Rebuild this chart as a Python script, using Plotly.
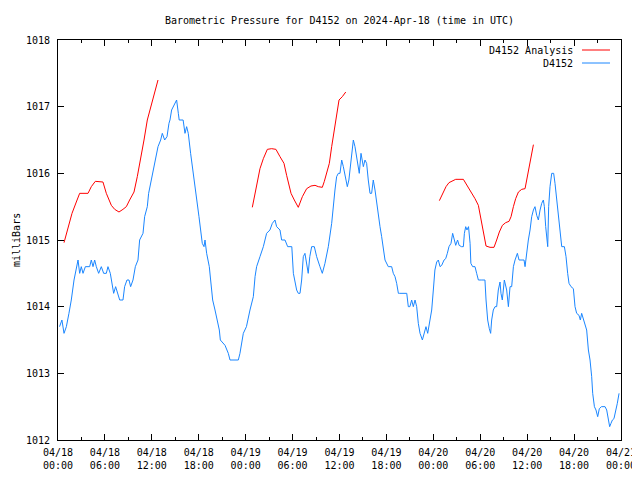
import pandas as pd
import plotly.graph_objects as go

# ---- data (hours since 2024-04-18 00:00 UTC, millibars) ----
blue_hours = [0.2, 0.5, 0.77, 1.07, 1.4, 1.7, 2.05, 2.34, 2.56, 2.77, 2.98, 3.2, 3.5, 4.05, 4.26, 4.48, 4.69, 4.9,
              5.2, 5.54, 5.84, 6.18, 6.39, 6.69, 6.95, 7.12, 7.37, 7.59, 7.89, 8.31, 8.52, 8.82, 9.08, 9.29, 9.59,
              9.89, 10.23, 10.44, 10.87, 11.08, 11.42, 11.59, 11.93, 12.23, 12.49, 12.79, 13.13, 13.34, 13.64,
              13.94, 14.19,
              14.32, 14.53, 14.75, 15.17, 15.39, 15.5, 16.0, 16.24, 16.45, 16.66, 16.96, 17.22, 17.52, 17.73,
              18.03, 18.24, 18.45, 18.67, 18.8, 19.01, 19.35, 19.52, 19.78, 20.08, 20.37, 20.63, 20.76,
              21.36, 21.78, 22.0, 23.06, 23.27, 23.7, 24.1, 24.55, 24.98, 25.2, 25.4, 25.83, 26.26, 26.68, 27.1,
              27.41, 27.75, 27.96, 28.39, 28.6, 29.03, 29.37, 29.9, 30.1, 30.3, 30.52, 30.73, 30.95, 31.16, 31.37,
              31.58, 31.8, 32.0, 32.2, 32.44, 32.78, 33.08, 33.5, 33.8, 34.14, 34.57, 35.0, 35.2, 35.42, 35.63,
              35.85, 36.06, 36.28, 36.49, 36.7, 37.0, 37.2, 37.47, 37.77, 37.98, 38.19, 38.4, 38.53, 38.75, 39.05,
              39.26, 39.47, 39.68, 39.9, 40.11, 40.32, 40.54, 40.75, 40.96, 41.18, 41.39,
              41.82, 42.24, 42.67, 42.88, 43.1, 43.31,
              43.53, 43.7, 44.6, 44.8, 45.0, 45.23, 45.44, 45.66, 45.87, 46.08, 46.3, 46.6, 46.85, 47.06, 47.28,
              47.5, 47.79, 48.0, 48.2, 48.43, 48.64, 48.86, 49.07, 49.37, 49.58, 49.79, 50.0, 50.26, 50.47, 50.69,
              50.86, 51.1, 51.3, 51.6, 51.84, 51.97, 52.14, 52.3, 52.5, 52.7, 52.8, 53.03, 53.33, 53.54, 53.76,
              54.2, 54.6, 54.74, 54.95, 55.16, 55.33, 55.46, 55.67, 55.89, 56.1, 56.31, 56.53, 56.65, 56.82, 57.08,
              57.38, 57.6, 57.81, 58.02, 58.24, 58.45, 58.75, 58.96, 59.3, 59.6, 59.73, 59.94, 60.15, 60.37, 60.58,
              60.8, 61.0, 61.22, 61.43, 61.65, 61.86, 62.07, 62.2, 62.37, 62.5, 62.63, 62.75, 62.92, 63.14, 63.39,
              63.56, 63.78, 63.99, 64.2, 64.42, 64.76, 64.97, 65.18, 65.35, 65.61, 65.91, 66.12, 66.33, 66.63, 66.8,
              66.97, 67.19, 67.4, 67.61, 67.83, 68.04, 68.25, 68.38, 68.6, 68.8, 69.02, 69.23, 69.5, 69.96, 70.17,
              70.38, 70.55, 70.72, 70.9, 71.1, 71.32, 71.53, 71.75]
blue_values = [1013.7, 1013.8, 1013.6, 1013.7, 1013.9, 1014.1, 1014.4, 1014.6, 1014.7, 1014.5, 1014.6, 1014.5,
               1014.6, 1014.6, 1014.7, 1014.6, 1014.7, 1014.6, 1014.5, 1014.6, 1014.5, 1014.5, 1014.6, 1014.5,
               1014.3, 1014.2, 1014.3, 1014.2, 1014.1, 1014.1, 1014.3, 1014.4, 1014.4, 1014.3, 1014.4, 1014.6,
               1014.7, 1015.0, 1015.1, 1015.35, 1015.5, 1015.7, 1015.9, 1016.05, 1016.25, 1016.4, 1016.5, 1016.6,
               1016.5, 1016.55, 1016.75,
               1016.8, 1016.95, 1017.0, 1017.1, 1016.9, 1016.8, 1016.8, 1016.6, 1016.7, 1016.6, 1016.3, 1016.05,
               1015.75, 1015.55, 1015.35, 1015.15, 1014.95, 1014.9, 1015.0, 1014.8, 1014.6, 1014.4, 1014.1,
               1013.95, 1013.8, 1013.65, 1013.5,
               1013.42, 1013.3, 1013.2, 1013.2, 1013.3, 1013.6, 1013.7, 1013.95, 1014.15, 1014.45, 1014.6, 1014.75,
               1014.9, 1015.1, 1015.15, 1015.25, 1015.3, 1015.2, 1015.15, 1015.0, 1015.0, 1014.9, 1014.9, 1014.5,
               1014.4, 1014.25, 1014.2, 1014.2, 1014.4, 1014.75, 1014.8, 1014.6, 1014.5, 1014.75, 1014.9, 1014.9,
               1014.75, 1014.6, 1014.5, 1014.65, 1014.9, 1015.25, 1015.55, 1015.75, 1015.95, 1016.0, 1016.0,
               1016.2, 1016.1, 1015.95, 1015.8, 1015.9, 1016.2, 1016.5, 1016.4, 1016.25, 1016.1, 1016.0, 1016.3,
               1016.1, 1016.2, 1016.15, 1015.9, 1015.7, 1015.7, 1015.9, 1015.75, 1015.55, 1015.35, 1015.2, 1015.05,
               1014.7, 1014.6, 1014.6, 1014.5, 1014.45, 1014.35,
               1014.2, 1014.2, 1014.2, 1014.0, 1014.0, 1014.1, 1014.0, 1014.1, 1014.0, 1013.75, 1013.6, 1013.5,
               1013.6, 1013.7, 1013.6, 1013.77, 1013.95, 1014.25, 1014.55, 1014.67, 1014.7, 1014.6, 1014.62,
               1014.7, 1014.72, 1014.8, 1014.9, 1014.95, 1015.1, 1015.0, 1014.92, 1015.0, 1014.92, 1014.9, 1014.9,
               1015.1, 1015.2, 1015.15, 1015.2, 1014.95, 1014.65, 1014.6, 1014.6, 1014.5, 1014.4, 1014.4, 1014.4,
               1014.1, 1013.8, 1013.67, 1013.6, 1013.8, 1013.95, 1014.0, 1014.0, 1014.25, 1014.37, 1014.2, 1014.1,
               1014.4,
               1014.25, 1014.0, 1014.3, 1014.3, 1014.6, 1014.7, 1014.8, 1014.7, 1014.7, 1014.7, 1014.6, 1014.85,
               1015.0, 1015.15, 1015.35, 1015.45, 1015.5, 1015.37, 1015.3, 1015.45, 1015.55, 1015.6, 1015.5,
               1015.2, 1015.0, 1014.9, 1015.5, 1015.8, 1016.0, 1016.0, 1015.85, 1015.6, 1015.45, 1015.2, 1014.9,
               1014.9, 1014.75, 1014.5, 1014.35, 1014.3, 1014.27, 1014.0, 1013.9, 1013.87, 1013.8, 1013.9, 1013.82,
               1013.75, 1013.65, 1013.35, 1013.2, 1012.95, 1012.7, 1012.5, 1012.45, 1012.35, 1012.47, 1012.5,
               1012.5, 1012.45, 1012.3, 1012.2, 1012.25, 1012.3, 1012.32, 1012.42, 1012.55, 1012.7]

red_hours = [0.77, 1.28, 1.79, 2.34, 2.77, 3.84, 4.26, 4.77, 5.75, 6.18, 6.82, 7.25, 7.8, 8.31, 8.74, 9.16, 9.72,
             10.14, 10.57, 11.0, 11.42, 11.85, 12.36, 12.79, None,
             24.85, 25.1, 25.49, 25.83, 26.26, 26.77, 27.32, 27.87, 28.39, 28.9, 29.24, 29.58, 29.8, 30.22, 30.73,
             31.25, 31.8, 32.35, 32.87, 33.29, 33.8, 34.06, 34.36, 34.7, 35.0, 35.34, 35.64, 35.94, 36.36, 36.8,
             None,
             48.77, 49.2, 49.62, 50.0, 50.43, 50.86, 51.84, 52.26, 52.82, 53.33, 53.76, 54.1, 54.4, 54.74, 55.25,
             55.76, 56.1, 56.44, 56.83, 57.25, 57.68, 57.94, 58.24, 58.53, 58.88, 59.3, 59.73, 59.94, 60.15,
             60.37, 60.8]
red_values = [1014.96, 1015.2, 1015.4, 1015.57, 1015.7, 1015.7, 1015.8, 1015.88, 1015.87, 1015.7, 1015.52,
              1015.46, 1015.42, 1015.46, 1015.5, 1015.6, 1015.72, 1015.95, 1016.2, 1016.5, 1016.8, 1017.0,
              1017.22, 1017.4, None,
              1015.49, 1015.65, 1015.9, 1016.07, 1016.22, 1016.36, 1016.37, 1016.36, 1016.25, 1016.15, 1015.97,
              1015.8, 1015.7, 1015.6, 1015.49, 1015.65, 1015.77, 1015.81, 1015.82, 1015.8, 1015.79, 1015.88,
              1016.0, 1016.15, 1016.4, 1016.68, 1016.93, 1017.1, 1017.15, 1017.22, None,
              1015.59, 1015.7, 1015.8, 1015.86, 1015.88, 1015.91, 1015.91, 1015.83, 1015.72, 1015.62, 1015.52,
              1015.32, 1015.12, 1014.91, 1014.89, 1014.89, 1015.0, 1015.12, 1015.22, 1015.26, 1015.28, 1015.35,
              1015.5, 1015.62, 1015.72, 1015.76, 1015.77, 1015.9, 1016.05, 1016.2, 1016.43]

series_names = ["D4152 Analysis", "D4152"]
series_colors = ["#ff0000", "#1a86ff"]
y_ticks = [1012, 1013, 1014, 1015, 1016, 1017, 1018]

base = pd.Timestamp("2024-04-18 00:00")


def to_time(hours):
    return [None if h is None else base + pd.Timedelta(hours=h) for h in hours]


FONT = "DejaVu Sans Mono"
# the page body adds an 8px offset; size the figure so the plot box lands at 58..621 x 40..440
OFF = 8
W, H = 640 - OFF, 480 - OFF
L, T = 58 - OFF, 40 - OFF
R, B = 19, 40
PW, PH = W - L - R, H - T - B

fig = go.Figure()
fig.add_trace(go.Scatter(x=to_time(red_hours), y=red_values, mode="lines", name=series_names[0],
                         line=dict(color=series_colors[0], width=1), connectgaps=False))
fig.add_trace(go.Scatter(x=to_time(blue_hours), y=blue_values, mode="lines", name=series_names[1],
                         line=dict(color=series_colors[1], width=1)))

fig.update_layout(
    template="none",
    width=W, height=H,
    margin=dict(l=L, r=R, t=T, b=B, autoexpand=False),
    paper_bgcolor="white", plot_bgcolor="white",
    showlegend=False,
    font=dict(family=FONT, size=10, color="black"),
    title=dict(text="Barometric Pressure for D4152 on 2024-Apr-18 (time in UTC)",
               x=0.5, xref="paper", xanchor="center", y=1 - (20 - OFF) / H, yref="container",
               yanchor="middle", font=dict(family=FONT, size=10, color="black")),
)

fig.update_xaxes(
    automargin=False,
    range=[base, base + pd.Timedelta(hours=72)],
    tickformat="%m/%d<br>%H:%M", dtick=6 * 3600 * 1000, tick0=base,
    ticks="inside", ticklen=6, tickcolor="black",
    showline=True, linecolor="black", linewidth=1, mirror="ticks",
    showgrid=False, zeroline=False, ticklabelstandoff=3,
    minor=dict(dtick=3 * 3600 * 1000, ticks="inside", ticklen=3, tickcolor="black", showgrid=False),
    tickfont=dict(family=FONT, size=10, color="black"),
)
fig.update_yaxes(
    automargin=False,
    range=[1012, 1018], tickvals=y_ticks, ticktext=[str(v) for v in y_ticks],
    ticks="inside", ticklen=6, tickcolor="black",
    showline=True, linecolor="black", linewidth=1, mirror="ticks",
    showgrid=False, zeroline=False, ticklabelstandoff=5,
    tickfont=dict(family=FONT, size=10, color="black"),
)

# y-axis label
fig.add_annotation(text="milliBars", xref="paper", yref="paper", x=(16 - 58) / PW, y=0.5,
                   textangle=-90, showarrow=False, font=dict(family=FONT, size=10, color="black"),
                   xanchor="center", yanchor="middle")

# legend (gnuplot style: text then line sample)
for i, (name, col) in enumerate(zip(series_names, series_colors)):
    ypx = 50 + 13 * i
    yp = 1 - (ypx - 40) / PH
    fig.add_annotation(text=name, xref="paper", yref="paper", x=(575 - 58) / PW, y=yp,
                       xanchor="right", yanchor="middle", showarrow=False,
                       font=dict(family=FONT, size=10, color="black"))
    fig.add_shape(type="line", xref="paper", yref="paper",
                  x0=(582 - 58) / PW, x1=(610 - 58) / PW, y0=yp, y1=yp,
                  line=dict(color=col, width=1))

fig.write_html("out.html")
